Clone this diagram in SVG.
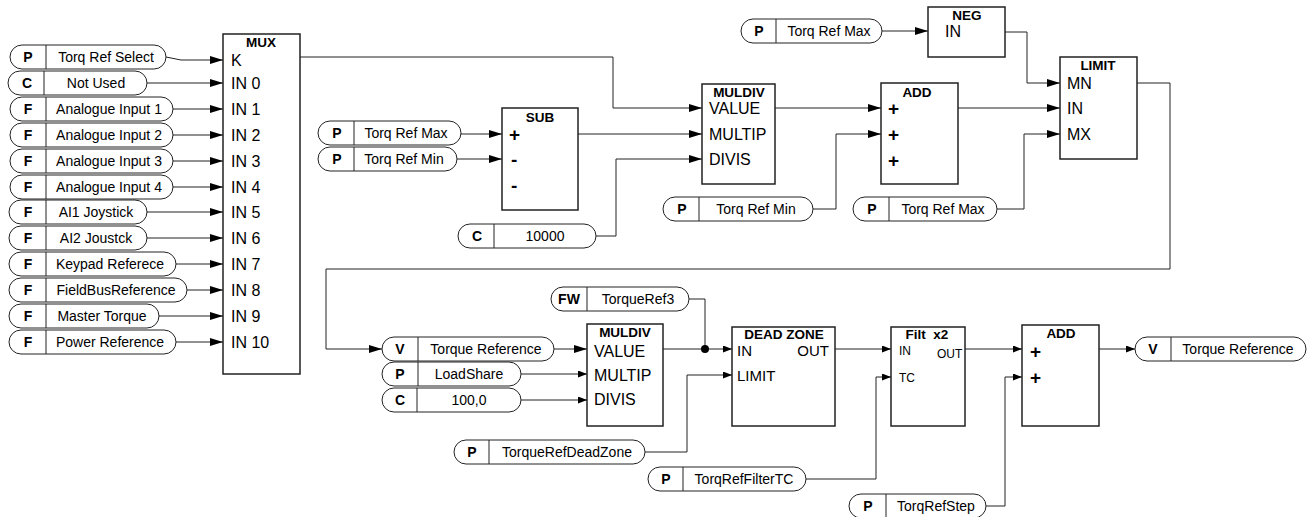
<svg xmlns="http://www.w3.org/2000/svg" width="1314" height="517" viewBox="0 0 1314 517">
<defs>
<marker id="ab" markerWidth="13" markerHeight="8" refX="13" refY="4" orient="auto" markerUnits="userSpaceOnUse"><path d="M0,0 L13,4 L0,8 z" fill="#000"/></marker>
<marker id="as" markerWidth="9" markerHeight="7" refX="9" refY="3.5" orient="auto" markerUnits="userSpaceOnUse"><path d="M0,0 L9,3.5 L0,7 z" fill="#000"/></marker>
</defs>
<style>
.pill{fill:#fff;stroke:#222;stroke-width:1}
.div{stroke:#222;stroke-width:1}
.box{fill:#fff;stroke:#222;stroke-width:1.5}
.tag{font-family:"Liberation Sans",Arial,sans-serif;font-size:14px;font-weight:bold;text-anchor:middle;fill:#000}
.lbl{font-family:"Liberation Sans",Arial,sans-serif;font-size:14px;text-anchor:middle;fill:#000}
.ttl{font-family:"Liberation Sans",Arial,sans-serif;font-size:13.5px;font-weight:bold;text-anchor:middle;fill:#000}
.port{font-family:"Liberation Sans",Arial,sans-serif;font-size:16px;fill:#000}
.port15{font-family:"Liberation Sans",Arial,sans-serif;font-size:15px;fill:#000}
.port12{font-family:"Liberation Sans",Arial,sans-serif;font-size:12px;fill:#000}
.sign{font-family:"Liberation Sans",Arial,sans-serif;font-size:19px;font-weight:bold;fill:#000}
.wire{fill:none;stroke:#222;stroke-width:1}
.big{marker-end:url(#ab)}
.sm{marker-end:url(#as)}
</style>

<!-- Left column pills -->
<g id="p-torqrefselect"><rect class="pill" x="10" y="45" width="156" height="24" rx="12"/><line class="div" x1="46" y1="45" x2="46" y2="69"/><text class="tag" x="28" y="62">P</text><text class="lbl" x="106" y="62">Torq Ref Select</text></g>
<g id="c-notused"><rect class="pill" x="8" y="71" width="139" height="24" rx="12"/><line class="div" x1="44" y1="71" x2="44" y2="95"/><text class="tag" x="27" y="88">C</text><text class="lbl" x="96" y="88">Not Used</text></g>
<g id="f-ai1"><rect class="pill" x="10" y="97" width="163" height="24" rx="12"/><line class="div" x1="46" y1="97" x2="46" y2="121"/><text class="tag" x="28" y="114">F</text><text class="lbl" x="109" y="114">Analogue Input 1</text></g>
<g id="f-ai2"><rect class="pill" x="10" y="123" width="163" height="24" rx="12"/><line class="div" x1="46" y1="123" x2="46" y2="147"/><text class="tag" x="28" y="140">F</text><text class="lbl" x="109" y="140">Analogue Input 2</text></g>
<g id="f-ai3"><rect class="pill" x="10" y="149" width="163" height="24" rx="12"/><line class="div" x1="46" y1="149" x2="46" y2="173"/><text class="tag" x="28" y="166">F</text><text class="lbl" x="109" y="166">Analogue Input 3</text></g>
<g id="f-ai4"><rect class="pill" x="10" y="175" width="163" height="24" rx="12"/><line class="div" x1="46" y1="175" x2="46" y2="199"/><text class="tag" x="28" y="192">F</text><text class="lbl" x="109" y="192">Analogue Input 4</text></g>
<g id="f-ai1joy"><rect class="pill" x="9" y="200" width="138" height="24" rx="12"/><line class="div" x1="46" y1="200" x2="46" y2="224"/><text class="tag" x="28" y="217">F</text><text class="lbl" x="96" y="217">AI1 Joystick</text></g>
<g id="f-ai2joy"><rect class="pill" x="9" y="226" width="138" height="24" rx="12"/><line class="div" x1="46" y1="226" x2="46" y2="250"/><text class="tag" x="28" y="243">F</text><text class="lbl" x="96" y="243">AI2 Joustck</text></g>
<g id="f-keypad"><rect class="pill" x="9" y="252" width="167" height="24" rx="12"/><line class="div" x1="46" y1="252" x2="46" y2="276"/><text class="tag" x="28" y="269">F</text><text class="lbl" x="110" y="269">Keypad Referece</text></g>
<g id="f-fieldbus"><rect class="pill" x="9" y="278" width="178" height="24" rx="12"/><line class="div" x1="46" y1="278" x2="46" y2="302"/><text class="tag" x="28" y="295">F</text><text class="lbl" x="116" y="295">FieldBusReference</text></g>
<g id="f-master"><rect class="pill" x="9" y="304" width="150" height="24" rx="12"/><line class="div" x1="46" y1="304" x2="46" y2="328"/><text class="tag" x="28" y="321">F</text><text class="lbl" x="102" y="321">Master Torque</text></g>
<g id="f-power"><rect class="pill" x="9" y="330" width="167" height="24" rx="12"/><line class="div" x1="46" y1="330" x2="46" y2="354"/><text class="tag" x="28" y="347">F</text><text class="lbl" x="110" y="347">Power Reference</text></g>

<!-- MUX -->
<g id="mux"><rect class="box" x="223" y="34" width="77" height="340"/><text class="ttl" x="261" y="47">MUX</text>
<text class="port" x="231" y="66">K</text><text class="port" x="231" y="89">IN 0</text><text class="port" x="231" y="115">IN 1</text><text class="port" x="231" y="141">IN 2</text><text class="port" x="231" y="167">IN 3</text><text class="port" x="231" y="193">IN 4</text><text class="port" x="231" y="218">IN 5</text><text class="port" x="231" y="244">IN 6</text><text class="port" x="231" y="270">IN 7</text><text class="port" x="231" y="296">IN 8</text><text class="port" x="231" y="322">IN 9</text><text class="port" x="231" y="348">IN 10</text></g>

<!-- SUB section -->
<g id="p-torqrefmax-sub"><rect class="pill" x="318" y="121" width="143" height="24" rx="12"/><line class="div" x1="354" y1="121" x2="354" y2="145"/><text class="tag" x="337" y="138">P</text><text class="lbl" x="406" y="138">Torq Ref Max</text></g>
<g id="p-torqrefmin-sub"><rect class="pill" x="318" y="147" width="139" height="24" rx="12"/><line class="div" x1="354" y1="147" x2="354" y2="171"/><text class="tag" x="337" y="164">P</text><text class="lbl" x="404" y="164">Torq Ref Min</text></g>
<g id="sub"><rect class="box" x="502" y="108" width="76" height="102"/><text class="ttl" x="540" y="122">SUB</text><text class="sign" x="509" y="141">+</text><text class="sign" x="511" y="166">-</text><text class="sign" x="511" y="192">-</text></g>
<g id="c-10000"><rect class="pill" x="458" y="224" width="138" height="24" rx="12"/><line class="div" x1="494" y1="224" x2="494" y2="248"/><text class="tag" x="477" y="241">C</text><text class="lbl" x="545" y="241">10000</text></g>

<g id="muldiv1"><rect class="box" x="702" y="84" width="73" height="100"/><text class="ttl" x="739" y="97">MULDIV</text><text class="port" x="709" y="114">VALUE</text><text class="port" x="709" y="140">MULTIP</text><text class="port" x="709" y="165">DIVIS</text></g>
<g id="p-torqrefmin-add"><rect class="pill" x="663" y="197" width="150" height="24" rx="12"/><line class="div" x1="699" y1="197" x2="699" y2="221"/><text class="tag" x="682" y="214">P</text><text class="lbl" x="756" y="214">Torq Ref Min</text></g>
<g id="add1"><rect class="box" x="881" y="83" width="77" height="101"/><text class="ttl" x="917" y="97">ADD</text><text class="sign" x="888" y="115">+</text><text class="sign" x="888" y="141">+</text><text class="sign" x="888" y="167">+</text></g>
<g id="p-torqrefmax-limit"><rect class="pill" x="853" y="197" width="144" height="24" rx="12"/><line class="div" x1="889" y1="197" x2="889" y2="221"/><text class="tag" x="872" y="214">P</text><text class="lbl" x="943" y="214">Torq Ref Max</text></g>
<g id="p-torqrefmax-neg"><rect class="pill" x="741" y="19" width="141" height="24" rx="12"/><line class="div" x1="776" y1="19" x2="776" y2="43"/><text class="tag" x="759" y="36">P</text><text class="lbl" x="829" y="36">Torq Ref Max</text></g>
<g id="neg"><rect class="box" x="928" y="7" width="77" height="50"/><text class="ttl" x="967" y="20">NEG</text><text class="port" x="945" y="37">IN</text></g>
<g id="limit"><rect class="box" x="1060" y="57" width="77" height="102"/><text class="ttl" x="1098" y="70">LIMIT</text><text class="port" x="1067" y="89">MN</text><text class="port" x="1067" y="114">IN</text><text class="port" x="1067" y="140">MX</text></g>

<!-- Lower row -->
<g id="v-torqueref-in"><rect class="pill" x="382" y="337" width="172" height="24" rx="12"/><line class="div" x1="418" y1="337" x2="418" y2="361"/><text class="tag" x="400" y="354">V</text><text class="lbl" x="486" y="354">Torque Reference</text></g>
<g id="p-loadshare"><rect class="pill" x="382" y="362" width="139" height="24" rx="12"/><line class="div" x1="418" y1="362" x2="418" y2="386"/><text class="tag" x="400" y="379">P</text><text class="lbl" x="469" y="379">LoadShare</text></g>
<g id="c-100"><rect class="pill" x="382" y="388" width="139" height="24" rx="12"/><line class="div" x1="417" y1="388" x2="417" y2="412"/><text class="tag" x="400" y="405">C</text><text class="lbl" x="469" y="405">100,0</text></g>
<g id="muldiv2"><rect class="box" x="587" y="324" width="76" height="102"/><text class="ttl" x="625" y="337">MULDIV</text><text class="port" x="594" y="357">VALUE</text><text class="port" x="594" y="381">MULTIP</text><text class="port" x="594" y="405">DIVIS</text></g>
<g id="fw-torqueref3"><rect class="pill" x="551" y="287" width="138" height="24" rx="12"/><line class="div" x1="587" y1="287" x2="587" y2="311"/><text class="tag" x="569" y="304">FW</text><text class="lbl" x="638" y="304">TorqueRef3</text></g>
<g id="p-deadzone"><rect class="pill" x="454" y="440" width="191" height="24" rx="12"/><line class="div" x1="489" y1="440" x2="489" y2="464"/><text class="tag" x="472" y="457">P</text><text class="lbl" x="567" y="457">TorqueRefDeadZone</text></g>
<g id="deadzone"><rect class="box" x="732" y="327" width="103" height="99"/><text class="ttl" x="784" y="339">DEAD ZONE</text><text class="port15" x="737" y="356">IN</text><text class="port15" x="829" y="356" text-anchor="end">OUT</text><text class="port15" x="737" y="381">LIMIT</text></g>
<g id="filt"><rect class="box" x="891" y="327" width="74" height="99"/><text class="ttl" x="927" y="339" xml:space="preserve">Filt  x2</text><text class="port12" x="899" y="355">IN</text><text class="port12" x="937" y="358">OUT</text><text class="port12" x="899" y="382">TC</text></g>
<g id="p-filtertc"><rect class="pill" x="648" y="467" width="158" height="24" rx="12"/><line class="div" x1="683" y1="467" x2="683" y2="491"/><text class="tag" x="666" y="484">P</text><text class="lbl" x="744" y="484">TorqRefFilterTC</text></g>
<g id="add2"><rect class="box" x="1022" y="325" width="77" height="101"/><text class="ttl" x="1061" y="338">ADD</text><text class="sign" x="1030" y="358">+</text><text class="sign" x="1030" y="384">+</text></g>
<g id="p-step"><rect class="pill" x="849" y="494" width="137" height="24" rx="12"/><line class="div" x1="886" y1="494" x2="886" y2="518"/><text class="tag" x="868" y="511">P</text><text class="lbl" x="936" y="511">TorqRefStep</text></g>
<g id="v-torqueref-out"><rect class="pill" x="1135" y="337" width="171" height="24" rx="12"/><line class="div" x1="1171" y1="337" x2="1171" y2="361"/><text class="tag" x="1153" y="354">V</text><text class="lbl" x="1238" y="354">Torque Reference</text></g>

<!-- Connectors -->
<g id="connectors">
<path class="wire big" d="M166,57 L181,60 L223,60"/>
<path class="wire big" d="M147,83 L223,83"/>
<path class="wire big" d="M173,109 L223,109"/>
<path class="wire big" d="M173,135 L223,135"/>
<path class="wire big" d="M173,161 L223,161"/>
<path class="wire big" d="M173,187 L223,187"/>
<path class="wire big" d="M147,212 L223,212"/>
<path class="wire big" d="M147,238 L223,238"/>
<path class="wire big" d="M176,264 L223,264"/>
<path class="wire big" d="M187,290 L223,290"/>
<path class="wire big" d="M159,316 L223,316"/>
<path class="wire big" d="M176,342 L223,342"/>
<path class="wire big" d="M300,57 L613,57 L613,108 L702,108"/>
<path class="wire big" d="M461,134 L502,134"/>
<path class="wire big" d="M457,159 L502,159"/>
<path class="wire big" d="M578,134 L702,134"/>
<path class="wire big" d="M596,236 L616,236 L616,159 L702,159"/>
<path class="wire big" d="M775,108 L881,108"/>
<path class="wire big" d="M813,209 L836,209 L836,134 L881,134"/>
<path class="wire big" d="M882,31 L928,31"/>
<path class="wire big" d="M1005,32 L1027,32 L1027,83 L1060,83"/>
<path class="wire big" d="M958,108 L1060,108"/>
<path class="wire big" d="M997,209 L1024,209 L1024,134 L1060,134"/>
<path class="wire big" d="M1137,83 L1170,83 L1170,269 L326,269 L326,349 L382,349"/>
<path class="wire big" d="M554,349 L587,349"/>
<path class="wire sm" d="M521,374 L587,374"/>
<path class="wire sm" d="M521,400 L587,400"/>
<path class="wire" d="M689,299 L705,299 L705,349"/>
<path class="wire sm" d="M663,349 L732,349"/>
<circle cx="705" cy="349" r="4" fill="#000"/>
<path class="wire sm" d="M645,452 L687,452 L687,375 L732,375"/>
<path class="wire sm" d="M835,349 L891,349"/>
<path class="wire sm" d="M806,479 L876,479 L876,377 L891,377"/>
<path class="wire sm" d="M965,349 L1022,349"/>
<path class="wire sm" d="M986,506 L1005,506 L1005,377 L1022,377"/>
<path class="wire sm" d="M1099,349 L1135,349"/>
</g>
</svg>
